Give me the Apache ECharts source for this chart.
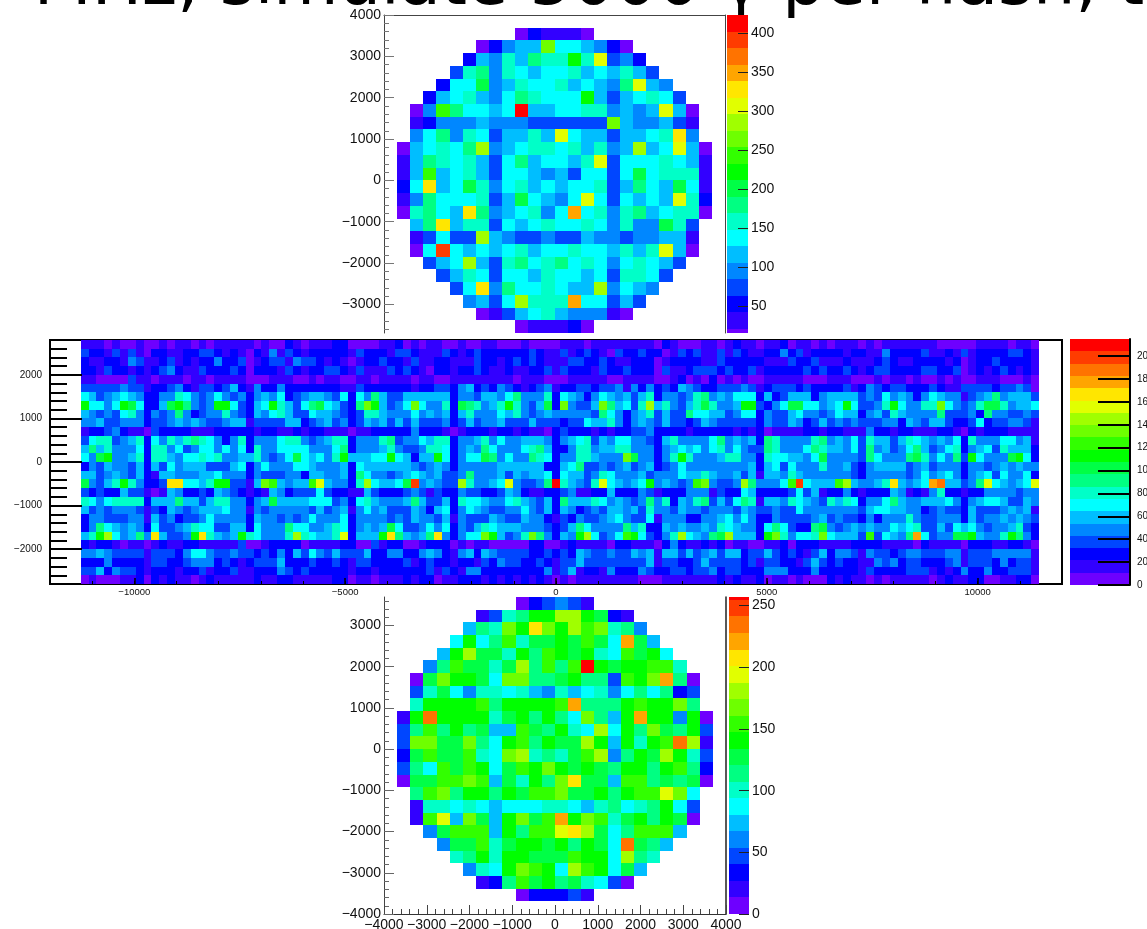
<!DOCTYPE html>
<html><head><meta charset="utf-8">
<style>html,body{margin:0;padding:0;background:#fff;overflow:hidden}#c{width:1147px;height:929px}</style>
<script src="https://cdn.jsdelivr.net/npm/echarts@6/dist/echarts.min.js"></script>
</head><body><div id="c"></div>
<script>
// Contour-band index read for each cell (0 = lowest colour band, 19 = highest)
const palette=['#6e00ff','#3200ff','#0000ff','#0046ff','#0087ff','#00beff','#00ffff','#00ffc8','#00ff82','#00ff46','#00ff00','#32ff00','#6eff00','#a0ff00','#e1ff00','#ffe600','#ffa500','#ff7300','#ff3c00','#ff0000'];
const titleText='r MHz, simulate 5000 γ per flash, t';
const topZMax=423, midZMax=215, botZMax=268;
const topZTicks=[50,100,150,200,250,300,350,400];
const midZTicks=[0,20,40,60,80,100,120,140,160,180,200];
const botZTicks=[0,50,100,150,200,250];
const diskStart=[10,7,6,5,4,3,2,2,2,1,1,1,1,1,1,2,2,2,3,4,5,6,7,10];
const topRows=[
[0,2,1,1,1,0],
[0,2,4,5,5,12,6,6,5,4,2,0],
[2,5,4,7,5,8,7,7,10,7,14,3,4,2],
[3,7,8,4,7,6,5,6,6,7,5,6,5,7,5,3],
[2,6,6,9,4,5,7,6,6,7,5,6,5,4,8,14,5,4],
[2,5,6,7,5,4,6,8,7,6,6,6,10,5,3,5,6,7,6,3],
[0,4,11,8,6,6,5,6,19,5,5,6,6,7,7,4,5,4,5,14,5,0],
[1,2,4,4,4,5,4,4,4,3,3,3,3,3,3,12,5,4,4,5,3,1],
[4,6,8,4,7,6,3,5,5,7,5,14,6,5,5,3,5,5,6,7,15,4],
[0,5,6,7,6,8,13,4,5,6,7,7,6,7,5,7,4,5,13,5,6,14,5,0],
[1,5,8,7,6,7,5,3,6,8,5,6,6,5,7,14,3,6,6,6,7,6,5,1],
[1,5,11,5,6,7,5,3,6,6,5,4,5,3,6,6,3,6,9,6,7,7,7,1],
[2,6,15,5,6,9,7,4,6,7,5,6,5,6,6,7,3,5,8,6,5,9,6,1],
[1,4,8,6,6,6,7,3,5,9,6,5,4,6,14,6,3,6,5,6,5,14,7,2],
[0,7,8,6,5,15,8,4,5,6,7,4,6,16,6,7,4,7,8,5,6,7,7,0],
[5,8,15,5,7,7,3,6,5,6,7,6,6,7,6,4,7,4,4,9,7,3],
[1,3,6,3,3,13,5,4,3,3,4,3,3,5,4,4,3,4,4,5,5,1],
[0,6,18,6,5,6,5,6,7,5,6,6,7,6,6,5,7,5,7,14,5,0],
[3,5,6,13,5,3,7,8,6,7,8,6,7,6,4,6,7,6,5,3],
[3,5,7,6,3,6,6,5,7,6,6,5,6,3,7,7,6,3],
[3,6,15,4,8,6,6,7,6,5,5,13,4,6,5,4],
[4,5,3,6,13,7,7,7,16,6,6,3,5,3],
[0,1,3,5,6,7,5,4,4,4,1,0],
[0,1,1,1,2,0]];
const botRows=[
[0,2,3,4,3,1],
[1,3,7,8,10,10,13,13,10,9,2,1],
[5,8,7,12,10,15,12,10,13,11,12,7,8,4],
[6,10,6,8,11,7,9,9,10,9,11,9,6,16,9,5],
[5,10,13,9,9,7,10,8,11,10,9,10,7,6,11,9,10,6],
[4,8,11,9,9,7,9,13,8,11,8,11,19,10,9,10,10,11,11,7],
[0,9,12,10,10,9,6,12,12,8,8,9,10,8,8,3,11,10,12,16,8,0],
[3,7,9,6,4,7,7,6,7,5,4,7,5,6,7,4,6,8,6,8,2,3],
[7,10,10,10,10,11,8,10,10,10,10,11,16,8,8,8,10,11,10,10,12,8],
[1,10,17,10,10,10,10,7,9,10,8,10,8,6,12,8,5,10,16,10,10,4,10,0],
[3,8,11,8,10,8,9,5,5,11,9,8,10,7,6,13,6,10,8,12,9,8,10,3],
[3,12,12,9,9,12,8,6,10,11,8,10,9,9,13,10,5,10,7,10,11,17,13,1],
[2,9,11,9,9,11,7,6,12,13,7,8,7,9,11,13,4,8,10,9,13,10,7,3],
[3,8,6,11,9,11,10,6,9,11,10,12,10,9,10,9,8,10,10,8,10,11,8,2],
[0,9,9,11,11,12,11,5,9,7,10,8,12,15,9,9,5,11,11,8,9,8,9,0],
[8,11,12,8,10,10,8,10,9,11,11,12,9,9,10,8,10,11,11,14,12,6],
[1,7,7,6,7,6,5,6,6,6,7,7,6,5,7,8,6,7,8,10,6,3],
[1,11,14,5,12,9,5,10,12,9,11,16,10,12,11,7,9,10,8,10,9,0],
[4,9,11,11,11,5,10,8,11,11,14,15,13,9,6,8,11,11,11,5],
[4,9,9,11,7,9,10,10,9,10,8,10,9,6,17,9,8,5],
[7,8,10,7,10,10,9,9,9,11,10,10,6,13,8,7],
[4,7,6,10,12,11,10,6,13,11,10,6,9,5],
[1,2,8,11,9,10,8,9,7,6,3,0],
[0,2,2,2,3,1]];
// Long strip: columns 0-30, 31-60, 61-90, 91, 92-121, one row per 200 mm from the top
const midA=[
[1,1,1,0,1,0,0,1,0,0,1,0,1,1,0,1,0,1,1,1,1,1,0,1,0,0,2,1,0,1,1],
[3,2,2,1,3,1,3,1,0,2,2,1,1,2,2,3,3,2,1,2,1,0,2,1,4,1,3,2,1,2,2],
[2,1,1,2,2,1,4,3,1,1,2,3,1,2,1,2,2,4,2,2,3,0,1,2,3,3,1,4,3,3,2],
[2,2,1,3,2,2,1,2,1,2,3,4,2,1,1,3,2,2,2,3,2,0,2,2,2,1,3,2,1,2,2],
[1,1,0,0,0,0,3,1,1,0,1,1,1,0,1,1,0,1,1,1,1,0,0,0,1,1,1,0,0,1,0],
[3,3,3,3,3,4,3,3,1,2,2,3,4,2,1,3,3,2,3,5,2,1,4,2,2,4,2,2,2,2,2],
[6,5,3,4,5,6,5,4,2,2,4,4,7,6,4,3,4,6,4,3,4,2,4,5,4,6,2,3,4,5,5],
[10,6,6,4,6,10,9,6,2,2,5,9,10,8,4,3,4,10,10,6,3,2,5,6,10,7,5,3,6,8,9],
[5,4,3,4,3,6,7,4,2,4,3,4,8,4,2,3,4,4,7,4,3,2,5,4,6,7,5,3,3,6,5],
[4,4,5,3,3,4,4,4,2,3,3,4,5,4,5,4,3,3,4,5,5,1,3,3,3,3,5,5,2,3,4],
[1,2,2,3,4,2,1,1,0,3,2,2,2,2,1,1,1,2,2,2,2,2,1,2,2,1,1,2,1,2,2],
[3,6,7,7,3,4,5,7,2,6,4,7,5,7,8,7,6,4,2,4,7,2,4,4,4,6,7,7,4,3,4],
[5,8,5,7,4,4,4,6,2,7,7,4,6,3,4,6,6,4,6,4,6,2,7,4,4,6,6,6,6,4,4],
[6,4,9,10,4,4,5,7,2,7,7,5,4,6,6,7,6,7,4,4,5,5,7,4,3,4,6,9,6,5,6],
[2,4,3,5,4,4,3,5,2,5,3,6,4,5,5,5,3,3,3,5,6,2,4,6,4,4,4,6,6,5,4],
[5,5,3,4,5,4,3,5,2,1,5,5,4,4,4,5,5,6,4,4,4,2,4,3,3,3,4,4,2,5,5],
[9,4,3,5,7,10,7,4,2,2,3,15,15,6,6,5,7,10,10,3,3,1,5,12,11,5,4,5,5,11,14],
[3,2,3,2,2,5,3,3,1,0,1,5,4,2,2,3,2,5,4,3,2,1,2,1,5,4,2,3,3,3,6],
[7,6,4,6,7,7,7,7,2,5,5,5,8,5,5,3,5,7,7,4,4,2,4,5,9,5,5,5,5,6,6],
[5,3,4,3,4,4,4,3,1,3,2,5,4,3,4,5,5,5,6,4,4,1,4,3,4,4,4,4,4,3,5],
[2,4,4,3,3,3,4,4,1,5,3,4,2,3,3,4,6,4,4,4,4,2,5,4,4,3,4,3,4,6,4],
[2,4,8,6,5,4,5,4,2,6,3,3,4,5,7,6,6,3,3,5,5,2,6,4,4,4,8,6,6,4,4],
[5,7,10,13,6,4,5,8,4,15,5,3,3,4,10,15,7,5,4,5,10,7,6,4,4,4,7,13,7,6,5],
[2,1,2,2,1,0,1,1,0,1,2,1,1,2,2,1,1,1,1,1,3,0,0,1,2,2,2,2,0,1,1],
[4,4,5,4,3,3,3,3,1,3,3,3,2,4,6,6,4,3,3,4,3,3,2,3,2,4,2,5,3,6,4],
[2,2,2,4,2,2,2,2,1,3,3,2,2,3,4,4,4,2,3,2,1,2,3,3,3,5,2,2,2,3,2],
[3,3,5,2,4,3,3,2,1,2,2,2,1,2,2,3,1,2,2,3,1,1,2,2,2,4,3,2,3,2,2],
[0,1,0,0,0,1,1,2,0,2,1,2,1,1,0,1,2,1,1,1,1,1,2,1,1,2,2,1,1,1,1]];
const midB=[
[1,2,2,0,0,0,0,1,1,2,0,1,0,1,1,0,0,1,0,0,1,1,0,0,0,1,0,0,0,0],
[2,2,2,1,3,2,2,2,1,3,3,2,1,1,1,3,2,1,2,3,2,2,2,2,2,2,3,2,1,1],
[1,2,1,0,1,2,2,3,2,2,1,3,1,1,2,2,1,1,1,3,2,2,1,2,3,2,3,2,1,1],
[3,3,2,1,3,1,1,1,3,2,3,2,1,0,2,2,1,2,2,3,2,1,1,2,1,1,2,2,3,1],
[1,1,0,0,1,1,0,1,1,1,1,0,1,1,0,0,1,1,1,1,1,1,1,1,0,1,1,1,0,0],
[2,2,1,1,3,2,2,2,2,2,2,1,2,2,3,3,2,4,5,2,3,2,4,3,2,1,2,3,4,1],
[4,3,6,2,6,4,8,5,3,3,5,5,5,5,5,5,2,4,4,3,5,5,4,6,8,4,4,4,7,2],
[6,5,3,2,8,12,10,5,3,4,6,12,6,4,4,7,2,9,8,7,4,5,7,10,7,4,3,5,9,2],
[5,4,3,2,3,7,7,5,4,4,4,6,4,5,4,5,2,5,7,4,4,4,6,5,7,4,3,4,5,4],
[5,3,4,2,3,5,4,5,3,5,3,5,3,3,3,4,2,3,5,3,4,4,5,3,3,3,5,3,3,3],
[1,1,1,0,1,1,2,2,2,2,2,4,2,2,2,1,0,1,2,2,2,1,2,2,1,2,1,1,0,2],
[5,7,7,2,4,4,4,7,8,3,4,4,6,5,7,7,2,4,4,5,7,4,6,4,4,5,5,5,4,2],
[4,6,8,2,4,4,4,5,7,4,3,3,4,7,7,6,2,4,5,4,8,6,4,4,4,6,7,8,5,2],
[4,7,10,5,5,5,6,6,10,6,5,2,5,5,10,6,2,4,6,6,9,8,4,6,4,4,8,7,6,2],
[4,4,5,2,6,5,5,5,5,5,5,4,3,4,5,4,2,4,4,4,4,4,5,5,5,5,5,5,2,2],
[4,4,5,2,8,6,4,4,3,4,5,6,5,4,5,3,3,4,8,4,4,4,5,3,5,4,5,5,6,2],
[5,4,4,2,7,13,6,5,5,6,9,18,4,5,4,3,3,13,7,4,4,5,6,14,4,3,3,4,8,19],
[3,2,2,1,1,5,3,2,2,2,3,4,3,1,3,2,2,4,3,3,2,2,3,5,4,2,1,1,2,2],
[6,3,4,2,6,7,5,4,4,4,5,8,5,3,3,5,2,7,6,6,5,4,4,6,7,5,4,3,5,2],
[3,4,5,1,4,6,4,5,3,3,3,5,4,2,5,6,2,4,6,5,4,3,3,4,4,6,4,3,5,2],
[4,4,6,2,4,4,4,4,3,4,3,5,4,4,3,5,1,4,3,3,3,5,4,3,3,5,4,4,2,1],
[5,7,6,2,4,5,4,5,9,6,3,3,4,6,4,6,2,4,3,5,7,6,5,5,5,4,4,4,3,2],
[5,7,14,2,5,5,5,10,15,8,5,4,5,8,15,4,2,4,6,6,12,10,5,3,4,7,12,8,4,2],
[1,1,2,2,0,0,3,1,2,2,0,0,1,2,2,2,0,1,0,1,1,0,0,0,0,0,2,2,0,0],
[3,5,3,3,3,5,2,2,4,4,2,2,4,5,4,2,1,4,5,2,5,4,3,3,3,3,2,2,3,2],
[2,3,2,1,3,3,2,2,2,2,3,1,2,3,2,2,1,2,2,1,3,2,4,3,3,2,2,3,2,1],
[2,2,2,1,2,2,1,2,2,2,2,2,2,3,1,3,2,1,4,4,2,2,2,2,2,2,2,2,4,1],
[1,2,2,0,1,1,0,1,1,1,2,1,2,2,0,1,1,2,2,2,1,2,1,2,1,2,1,2,1,0]];
const midC=[
[1,1,1,0,1,1,1,1,1,1,1,1,0,2,1,0,0,0,1,1,0,1,2,1,1,0,1,1,2,0],
[3,1,2,3,2,1,0,3,2,2,3,2,2,0,1,3,2,3,1,1,3,1,3,2,1,1,2,2,4,2],
[1,3,3,2,2,3,2,1,1,2,2,2,0,1,2,2,2,2,1,1,3,2,2,2,2,2,1,1,1,3],
[3,2,2,2,1,3,2,2,3,2,2,2,0,3,1,1,2,3,3,3,2,3,2,2,3,1,2,2,2,2],
[0,1,1,1,1,1,0,0,1,1,1,1,0,0,1,2,0,1,0,2,0,1,0,1,0,0,1,1,1,1],
[2,2,3,3,2,3,3,4,1,4,2,4,2,3,2,5,4,3,2,2,3,3,3,4,3,1,2,3,3,3],
[6,5,4,2,4,6,5,4,5,3,5,7,2,4,4,3,4,7,8,4,5,4,6,6,6,2,5,2,3,5],
[12,4,3,3,5,12,8,5,6,3,7,13,5,7,4,3,5,7,9,7,4,4,5,10,10,3,2,4,6,9],
[4,4,4,4,3,8,6,4,2,4,5,7,3,5,3,3,8,6,6,5,5,3,4,6,6,2,4,3,3,5],
[2,3,3,6,5,5,7,4,2,4,5,4,3,5,3,3,2,3,5,4,3,3,3,3,3,2,4,3,3,5],
[3,2,2,2,1,2,1,2,2,3,3,4,2,2,2,2,1,2,2,2,2,2,1,2,1,2,0,1,1,1],
[4,5,6,7,3,5,4,6,6,4,4,3,2,5,7,4,4,4,4,6,8,4,5,4,5,2,8,7,4,4],
[2,4,7,7,4,5,5,7,7,4,4,4,2,4,5,6,5,6,4,6,7,4,6,4,3,3,8,7,4,4],
[4,4,7,7,5,4,4,4,12,9,4,4,2,4,7,10,7,4,4,4,5,7,7,4,4,2,7,6,6,5],
[5,6,8,3,3,4,3,4,5,3,4,5,2,3,4,6,4,4,4,4,4,4,4,4,5,2,5,6,3,6],
[6,5,5,3,4,7,6,4,4,4,5,3,4,4,4,6,5,5,7,5,4,4,5,3,5,1,5,5,4,7],
[7,5,4,3,7,14,6,5,4,5,6,10,4,5,4,3,4,11,12,4,3,3,4,13,8,4,4,4,6,11],
[3,4,1,1,2,2,5,2,2,2,4,3,1,2,2,2,4,4,4,1,3,2,2,6,5,2,2,2,2,3],
[8,5,5,5,7,6,4,5,4,3,4,8,4,7,2,5,4,7,8,3,5,3,6,8,7,1,5,5,4,7],
[5,4,2,3,4,3,5,5,4,5,3,7,4,4,3,5,4,4,3,4,4,4,3,5,4,3,3,4,3,3],
[3,2,4,3,3,4,5,6,4,3,3,6,1,4,4,4,2,2,4,4,5,6,4,6,4,2,2,4,3,3],
[3,5,8,6,4,4,4,4,8,5,7,2,2,5,4,5,4,4,5,4,7,6,5,4,4,2,6,8,6,3],
[5,4,10,13,6,3,4,6,11,10,6,3,2,4,7,13,6,5,4,8,9,13,5,5,5,2,10,12,7,4],
[1,2,1,1,1,1,0,2,2,1,1,1,0,2,4,2,1,1,2,1,2,0,1,1,0,0,1,1,2,0],
[3,2,5,4,3,3,4,3,3,5,4,5,1,5,5,3,5,3,4,5,3,5,5,2,3,3,5,3,2,3],
[3,3,5,3,3,3,3,3,3,3,3,5,1,3,3,2,2,3,5,3,3,3,3,2,3,1,3,3,2,2],
[3,5,1,2,2,1,4,2,2,2,4,3,2,2,3,3,2,3,3,4,2,3,3,2,2,2,4,4,4,2],
[1,0,1,1,1,1,1,1,1,1,0,0,0,1,1,1,1,1,1,1,2,1,2,1,1,2,0,1,1,0]];
const midE=[1,3,2,2,1,2,5,9,6,4,1,4,4,5,4,5,18,6,6,6,3,2,6,2,2,1,2,1];
const midD=[
[1,0,1,0,1,1,1,0,1,0,1,1,1,1,1,1,1,0,0,0,0,0,1,1,1,1,0,1,1,0],
[1,2,2,2,2,1,2,2,1,1,4,2,2,2,2,3,1,1,2,1,3,1,2,2,2,2,3,3,2,1],
[2,3,1,1,1,2,1,1,1,2,3,2,1,1,2,2,2,2,1,2,0,1,2,2,3,2,2,2,2,1],
[3,2,3,2,2,3,2,1,2,3,3,2,2,2,2,3,3,2,2,3,0,1,2,1,2,3,2,1,2,1],
[0,0,0,1,1,1,0,0,0,1,0,1,1,0,1,0,0,1,0,1,0,0,1,1,1,0,0,0,1,0],
[3,2,2,2,2,3,1,2,4,3,2,3,3,2,2,2,3,2,1,1,3,3,3,3,2,3,3,4,3,0],
[5,2,4,5,5,5,5,3,4,3,6,4,5,4,2,4,6,5,4,4,1,3,4,5,8,4,5,5,5,3],
[6,6,4,5,6,10,6,3,3,4,7,10,6,4,4,7,7,12,6,4,3,4,7,9,9,7,4,5,5,6],
[4,4,3,4,6,5,5,2,4,5,3,7,5,4,4,4,4,8,3,3,3,4,2,8,4,4,3,3,4,3],
[2,3,5,3,4,3,4,3,3,3,4,4,2,5,4,3,5,5,3,2,2,3,6,2,3,3,4,4,3,1],
[2,2,1,2,2,1,1,1,4,2,2,1,2,2,1,1,1,2,2,1,0,2,1,2,2,2,1,1,1,1],
[4,7,8,4,5,4,6,3,7,5,5,3,5,7,6,5,4,5,4,6,2,7,4,4,4,6,6,4,5,1],
[6,8,7,5,5,4,6,3,8,4,5,3,4,6,8,5,3,4,6,7,2,4,5,6,3,7,5,5,5,2],
[4,6,9,4,4,4,4,3,8,6,4,4,4,8,9,7,4,6,4,8,3,10,6,4,4,4,9,10,6,2],
[4,4,7,4,4,5,3,2,4,5,5,5,5,3,4,5,3,4,4,4,2,4,4,3,4,5,4,5,4,4],
[4,4,4,4,4,4,3,2,4,4,4,4,4,3,4,6,4,5,6,4,2,4,5,6,3,6,4,4,6,2],
[6,5,5,5,11,13,5,4,4,5,7,15,5,4,5,6,16,17,5,5,3,4,8,14,6,5,4,5,6,14],
[3,5,1,2,2,4,2,1,2,2,2,5,4,1,2,1,4,7,2,2,1,2,2,4,4,4,4,3,4,4],
[5,4,3,7,5,7,6,2,4,4,6,8,5,4,4,5,5,5,6,4,2,4,5,6,6,5,3,3,5,4],
[4,4,4,4,4,4,4,3,5,6,6,5,5,4,4,2,3,4,3,3,2,5,3,3,3,4,5,4,5,1],
[3,4,5,3,4,3,3,2,4,2,4,4,4,7,4,3,3,4,4,4,2,5,3,4,4,5,4,5,4,3],
[2,8,9,4,3,4,5,4,5,4,4,6,5,6,7,3,3,5,3,6,5,6,4,3,4,4,5,7,3,2],
[6,7,12,6,5,5,5,3,11,3,6,5,4,8,16,6,3,4,4,9,9,10,5,4,4,7,10,8,4,2],
[2,2,1,1,1,1,2,2,2,2,1,1,1,1,0,2,1,1,1,1,0,2,2,2,1,1,2,2,1,0],
[1,3,5,2,4,4,3,1,4,3,3,2,3,4,4,3,3,3,4,4,1,3,3,3,4,4,4,4,4,1],
[3,5,3,2,3,2,2,1,1,4,3,4,2,3,3,2,2,2,3,4,1,3,3,3,2,4,2,3,3,1],
[2,4,2,2,2,2,2,1,3,2,2,2,2,3,3,3,1,2,1,2,4,2,2,4,2,2,3,3,3,1],
[0,0,0,2,1,2,1,1,0,1,0,1,1,1,1,1,0,1,2,1,1,2,2,0,0,1,1,2,2,0]];

// tick positions
const steps=(a,b,s)=>{const r=[];for(let v=a;v<=b+1e-6;v+=s)r.push(v);return r;};
const fmt=v=>String(v).replace('-','\u2212');
const FONT='"Liberation Sans",Arial,sans-serif';
const chart=echarts.init(document.getElementById('c'),null,{renderer:'canvas'});
const grids=[],xAxes=[],yAxes=[],series=[],visualMaps=[];
function addGrid(l,t,w,h,extra){grids.push(Object.assign({left:l,top:t,width:w,height:h,containLabel:false,outerBoundsMode:'none'},extra||{}));return grids.length-1;}
function axis(list,grid,o){
  const a={gridIndex:grid,type:'value',min:o.min,max:o.max,position:o.pos,z:10,silent:true,scale:false,splitLine:{show:false},minorTick:{show:false},
    axisLine:{show:!!o.line,onZero:false,lineStyle:{color:o.lineColor||'#333',width:o.lineW||1}},
    axisTick:o.ticks?{show:true,inside:true,length:o.tickLen,customValues:o.ticks,lineStyle:{color:o.tickColor||'#333',width:o.tickW||1}}:{show:false},
    axisLabel:o.labels?{show:true,inside:false,customValues:o.labels,margin:o.margin,fontSize:o.font,fontFamily:FONT,color:'#111',formatter:fmt,hideOverlap:false,showMinLabel:true,showMaxLabel:true}:{show:false}};
  list.push(a);return list.length-1;
}
const renderCell=(p,api)=>{
  const x=api.value(0),y=api.value(1),dx=api.value(3),dy=api.value(4);
  const a=api.coord([x,y+dy]),b=api.coord([x+dx,y]);
  const x0=Math.round(a[0]),y0=Math.round(a[1]),x1=Math.round(b[0]),y1=Math.round(b[1]);
  return {type:'rect',shape:{x:x0,y:y0,width:x1-x0,height:y1-y0},style:{fill:api.visual('color')}};
};
function addSeries(g,xi,yi,data){
  series.push({type:'custom',xAxisIndex:xi,yAxisIndex:yi,coordinateSystem:'cartesian2d',clip:true,silent:true,animation:false,progressive:0,encode:{x:0,y:1},z:2,renderItem:renderCell,data});
  return series.length-1;
}
function addPalette(idx,zmax){
  const st=zmax/palette.length;
  visualMaps.push({type:'piecewise',show:false,seriesIndex:idx,dimension:2,pieces:palette.map((c,i)=>({gte:i*st,lt:(i===palette.length-1?zmax+1:(i+1)*st),color:c}))});
}
// axisMin/axisMax: the part of the scale the pad shows; zmax: top of the colour scale
function colorBar(l,t,w,h,axisMin,axisMax,zmax,ticks,o){
  const g=addGrid(l,t,w,h);
  const xi=axis(xAxes,g,{min:0,max:1,pos:'bottom'});
  const yi=axis(yAxes,g,Object.assign({min:axisMin,max:axisMax,pos:'right',ticks:ticks,labels:ticks},o));
  const st=zmax/palette.length;
  return addSeries(g,xi,yi,palette.map((c,i)=>[0,i*st,(i+0.5)*st,1,st]));
}
function diskData(rows,zmax){
  const bin=8000/26,st=zmax/palette.length,out=[];
  rows.forEach((row,r)=>row.forEach((b,k)=>{
    out.push([-4000+(diskStart[r]+k)*bin,4000-(r+2)*bin,(b+0.5)*st,bin,bin]);
  }));
  return out;
}
// top disk
{
  const g=addGrid(384,15,341,318);
  const xi=axis(xAxes,g,{min:-4000,max:4000,pos:'top',line:true,lineColor:'#444'});
  const yi=axis(yAxes,g,{min:-3692.3,max:4000,pos:'left',line:true,lineColor:'#444',ticks:steps(-3000,4000,1000),tickLen:10,labels:steps(-3000,4000,1000),margin:3,font:14,tickColor:'#777'});
  axis(yAxes,g,{min:-3692.3,max:4000,pos:'left',ticks:steps(-3600,4000,200),tickLen:5,tickColor:'#777'});
  axis(yAxes,g,{min:-3692.3,max:4000,pos:'right',line:true,lineColor:'#444'});
  const s=addSeries(g,xi,yi,diskData(topRows,topZMax));
  const b=colorBar(727,15,21,318,16,topZMax,topZMax,topZTicks,{tickLen:10,margin:3,font:14,tickColor:'#222'});
  addPalette([s,b],topZMax);
}
// long strip
{
  const g=addGrid(50,340,1012,244,{show:true,borderColor:'#000',borderWidth:2,backgroundColor:'#fff'});
  const xi=axis(xAxes,g,{min:-12000,max:12000,pos:'bottom',ticks:[-10000,-5000,0,5000,10000],tickLen:6,tickColor:'#000',tickW:1.5,labels:[-10000,-5000,0,5000,10000],margin:3,font:9.5});
  axis(xAxes,g,{min:-12000,max:12000,pos:'bottom',ticks:steps(-11000,11000,1000),tickLen:3,tickColor:'#000',tickW:1});
  const yi=axis(yAxes,g,{min:-2800,max:2800,pos:'left',ticks:[-2000,-1000,0,1000,2000],tickLen:32,tickColor:'#000',tickW:2,labels:[-2000,-1000,0,1000,2000],margin:8,font:10});
  axis(yAxes,g,{min:-2800,max:2800,pos:'left',ticks:steps(-2600,2600,200).filter(v=>Math.abs(v)%1000!==0),tickLen:17,tickColor:'#000',tickW:2});
  const bw=186.3,x0=-11271,st=midZMax/palette.length,data=[];
  const pushSeg=(rows,first)=>rows.forEach((row,r)=>row.forEach((b,k)=>{
    data.push([x0+(first+k)*bw,2800-200*(r+1),(b+0.5)*st,bw,200]);
  }));
  pushSeg(midA,0);pushSeg(midB,31);pushSeg(midC,61);pushSeg(midE.map(v=>[v]),91);pushSeg(midD,92);
  const s=addSeries(g,xi,yi,data);
  const b=colorBar(1070,339,60,246,0,midZMax,midZMax,midZTicks,{tickLen:32,tickColor:'#000',tickW:2,margin:7,font:10,line:true,lineColor:'#000',lineW:2});
  addPalette([s,b],midZMax);
}
// bottom disk
{
  const g=addGrid(384,597,342,317);
  const xi=axis(xAxes,g,{min:-4000,max:4000,pos:'bottom',line:true,lineColor:'#333',ticks:steps(-4000,4000,1000),tickLen:9,labels:steps(-4000,4000,1000),margin:4,font:14,tickColor:'#444'});
  axis(xAxes,g,{min:-4000,max:4000,pos:'bottom',ticks:steps(-4000,4000,200),tickLen:5,tickColor:'#444'});
  const yi=axis(yAxes,g,{min:-4000,max:3692.3,pos:'left',line:true,lineColor:'#444',ticks:steps(-4000,3000,1000),tickLen:10,labels:steps(-4000,3000,1000),margin:3,font:14,tickColor:'#666'});
  axis(yAxes,g,{min:-4000,max:3692.3,pos:'left',ticks:steps(-4000,3600,200),tickLen:5,tickColor:'#666'});
  axis(yAxes,g,{min:-4000,max:3692.3,pos:'right',line:true,lineColor:'#222',lineW:1.5});
  const s=addSeries(g,xi,yi,diskData(botRows,botZMax));
  const b=colorBar(729,597,20,317,0,257,botZMax,botZTicks,{tickLen:10,margin:3,font:14,tickColor:'#222'});
  addPalette([s,b],botZMax);
}
chart.setOption({
  animation:false,backgroundColor:'#fff',
  grid:grids,xAxis:xAxes,yAxis:yAxes,series:series,visualMap:visualMaps,
  graphic:[{type:'text',silent:true,z:0,style:{text:titleText,x:-15,y:20,font:'67px "DejaVu Sans"',fill:'#000',verticalAlign:'bottom'}}]
});
</script></body></html>
